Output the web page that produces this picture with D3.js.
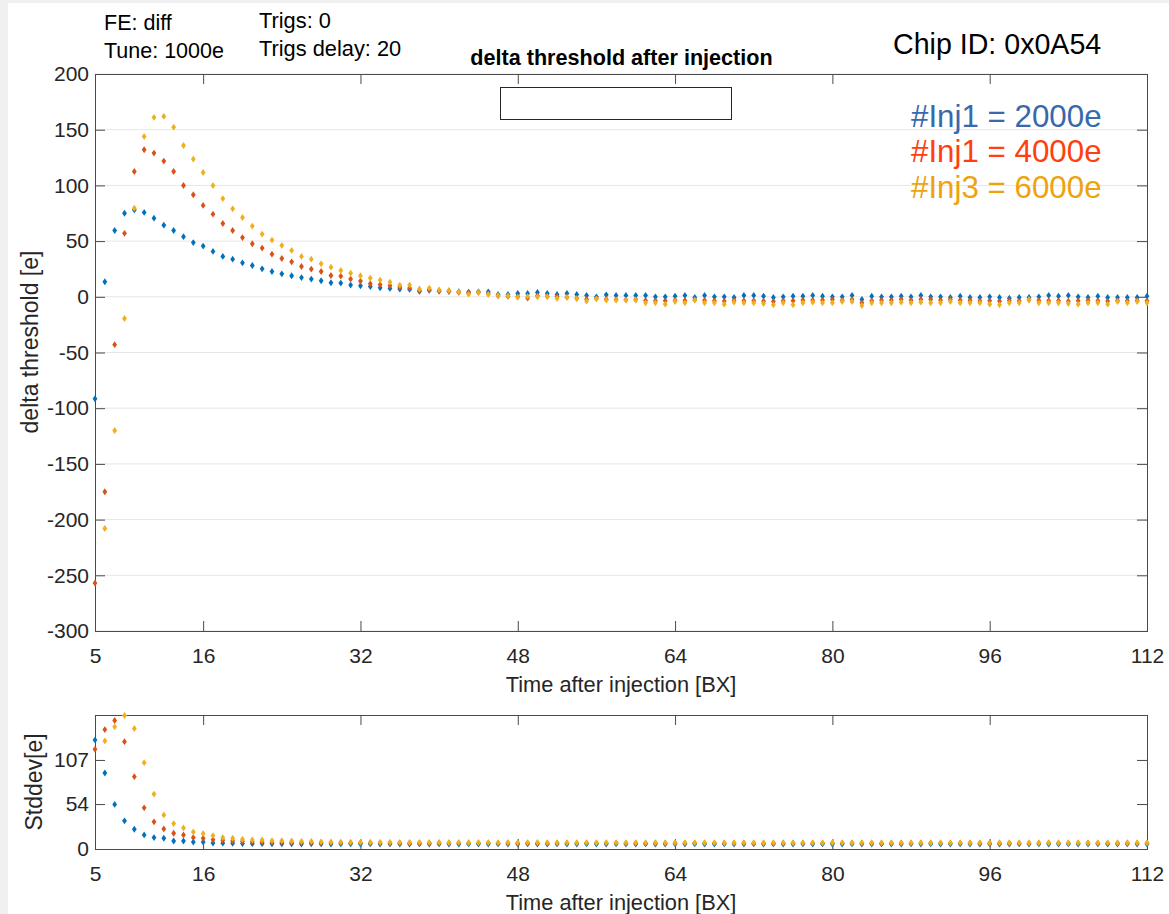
<!DOCTYPE html>
<html><head><meta charset="utf-8">
<script src="https://cdn.jsdelivr.net/npm/d3@7"></script>
<style>
html,body{margin:0;padding:0;background:#f0f0f0;}
svg{display:block;font-family:"Liberation Sans",Arial,Helvetica,sans-serif;}
</style></head><body>
<svg id="chart" width="1169" height="914"></svg>
<script>
// Bunch crossings after injection
const bxAfterInjection = d3.range(5, 113);

// Mean threshold shift [e] per BX, one array per injected charge
const deltaThr2000 = [
  -91.5, 13.5, 59.5, 75, 78, 75.7, 70.6, 64.3, 59.5, 54,
  48.7, 45.5, 40.7, 36.2, 33.8, 30.5, 28.1, 25.1, 22.7, 20.6,
  18.9, 17.3, 15.9, 14.4, 12.6, 12.3, 10.5, 9.9, 9.2, 8.1,
  7.5, 6.9, 6.6, 4.8, 5.7, 5.1, 5.0, 4.6, 4.2, 4.5,
  4.5, 2.1, 2.1, 3.0, 3.0, 3.9, 3.0, 2.1, 3.0, 2.1,
  1.2, 0.0, 1.8, 1.2, 1.2, 1.2, 1.2, 0.0, 0.0, 0.6,
  1.2, -0.6, 1.2, 0.0, 0.0, -0.6, 1.2, 1.2, 0.6, -0.6,
  0.0, 0.6, 0.6, 1.2, 0.6, 0.0, 0.0, 1.2, -2.4, 0.6,
  0.0, 0.0, 0.6, 0.0, 1.2, 0.0, 0.0, -0.6, 0.6, -0.6,
  -0.6, 0.0, -0.6, -1.2, -0.6, -0.6, 0.0, 1.2, 0.6, 1.2,
  0.0, -0.6, 0.6, -0.6, -0.6, -0.6, -0.6, 0.6
];
const deltaThr4000 = [
  -257, -175, -43, 57, 112.5, 132, 129, 121.8, 112.5, 99.9,
  91.6, 82, 74.2, 65.8, 59.5, 53.2, 47.6, 43.7, 38.3, 34.4,
  31.4, 27.2, 24.9, 22.7, 19.1, 18.5, 15.9, 14.1, 11.7, 11.0,
  10.1, 8.7, 7.8, 5.5, 6.3, 5.1, 5.0, 3.9, 3.3, 3.9,
  2.7, 0.9, 0.3, 0.3, -1.2, 0.9, 0.6, 0.3, -0.3, -1.2,
  -2.1, -1.5, -2.1, -2.4, -2.7, -2.4, -3.3, -3.6, -3.6, -3.0,
  -3.3, -2.7, -3.3, -3.6, -3.9, -3.3, -3.6, -3.6, -3.9, -4.2,
  -3.6, -3.6, -3.0, -3.0, -3.0, -2.4, -3.0, -2.4, -5.4, -3.6,
  -3.0, -3.0, -2.4, -3.0, -2.4, -2.4, -3.0, -2.4, -3.0, -3.3,
  -3.6, -3.6, -3.9, -3.3, -3.6, -2.7, -3.3, -3.6, -3.6, -3.9,
  -3.6, -3.3, -3.6, -3.9, -3.3, -3.6, -3.3, -3.6
];
const deltaThr6000 = [
  null, -208, -120, -19.5, 79.6, 143.9, 161, 161.9, 152.3, 135.8,
  123.6, 111.6, 99.9, 88.2, 79, 71.2, 63.5, 56.3, 50.9, 46.1,
  41.6, 36.2, 33.8, 29.6, 26.6, 23.6, 21.2, 18.9, 16.8, 15.0,
  13.2, 10.5, 10.5, 7.0, 7.8, 6.3, 5.7, 4.5, 2.4, 3.9,
  2.1, 1.2, 0.9, -0.6, 0.3, 0.0, 0.0, -1.5, -0.6, -1.8,
  -3.9, -1.8, -3.0, -3.0, -3.0, -3.0, -5.4, -5.4, -6.6, -4.2,
  -5.4, -3.0, -5.4, -5.4, -6.6, -4.8, -5.4, -5.4, -6.0, -7.2,
  -5.4, -7.2, -5.4, -4.8, -5.4, -5.4, -4.2, -4.2, -7.8, -5.4,
  -5.4, -5.4, -4.8, -5.4, -4.8, -5.4, -5.4, -4.2, -5.4, -5.4,
  -5.4, -6.6, -7.2, -5.4, -5.4, -2.4, -5.4, -5.4, -5.4, -6.0,
  -6.6, -5.4, -5.4, -6.6, -4.2, -5.4, -4.2, -5.4
];

// Threshold spread (stddev) [e] per BX
const stdThr2000 = [
  131, 91.3, 53.5, 33.8, 23.7, 16.9, 13.7, 12.9, 9.6, 9.6,
  8.4, 8.4, 7.2, 7.0, 6.8, 6.6, 6.4, 6.4, 6.2, 6.2,
  6.2, 6.0, 6.2, 6.1, 6.0, 6.1, 6.2, 6.0, 6.1, 6.0,
  6.1, 6.0, 6.0, 6.1, 6.0, 6.1, 6.0, 6.0, 6.1, 6.0,
  6.0, 6.1, 6.0, 6.0, 6.1, 6.0, 6.0, 6.1, 6.0, 6.0,
  6.1, 6.0, 6.0, 6.1, 6.0, 6.0, 6.1, 6.0, 6.0, 6.1,
  6.0, 6.1, 6.0, 6.0, 6.1, 6.0, 6.0, 6.1, 6.0, 6.1,
  6.0, 6.0, 6.1, 6.0, 6.1, 6.0, 6.0, 6.1, 6.0, 6.0,
  6.1, 6.0, 6.0, 6.1, 6.0, 6.1, 6.0, 6.0, 6.1, 6.0,
  6.0, 6.1, 6.0, 6.0, 6.1, 6.0, 6.1, 6.0, 6.0, 6.1,
  6.0, 6.0, 6.1, 6.0, 6.0, 6.1, 6.0, 6.0
];
const stdThr4000 = [
  119.8, 143.5, 154.4, 129, 86.9, 49.5, 32.6, 24.1, 18.9, 16.9,
  13.7, 12.9, 11.2, 10.5, 9.6, 9.2, 8.8, 8.4, 8.2, 8.0,
  7.8, 7.7, 7.6, 7.5, 7.4, 7.4, 7.3, 7.3, 7.2, 7.2,
  7.2, 7.1, 7.2, 7.1, 7.1, 7.2, 7.1, 7.1, 7.0, 7.1,
  7.1, 7.0, 7.1, 7.0, 7.1, 7.0, 7.0, 7.1, 7.0, 7.0,
  7.1, 7.0, 7.0, 7.1, 7.0, 7.0, 7.0, 7.1, 7.0, 7.0,
  7.0, 7.1, 7.0, 7.0, 7.0, 7.1, 7.0, 7.0, 7.0, 7.1,
  7.0, 7.0, 7.0, 7.1, 7.0, 7.0, 7.0, 7.1, 7.0, 7.0,
  7.0, 7.1, 7.0, 7.0, 7.0, 7.1, 7.0, 7.0, 7.0, 7.1,
  7.0, 7.0, 7.0, 7.1, 7.0, 7.0, 7.0, 7.1, 7.0, 7.0,
  7.0, 7.1, 7.0, 7.0, 7.0, 7.1, 7.0, 7.0
];
const stdThr6000 = [
  null, 129.9, 146.8, 160.4, 144.8, 103.7, 66, 41, 30.5, 25.3,
  20.5, 18.5, 16, 13.7, 12.9, 11.7, 10.9, 10.9, 10, 10,
  9.6, 9.2, 9.2, 8.6, 8.4, 8.3, 8.2, 8.1, 8.1, 8.0,
  8.0, 8.0, 7.9, 8.0, 7.9, 7.9, 7.8, 7.9, 7.8, 7.8,
  7.8, 7.7, 7.8, 7.7, 7.7, 7.8, 7.7, 7.7, 7.7, 7.6,
  7.7, 7.6, 7.7, 7.6, 7.6, 7.7, 7.6, 7.6, 7.6, 7.6,
  7.7, 7.6, 7.6, 7.6, 7.5, 7.6, 7.6, 7.6, 7.5, 7.6,
  7.6, 7.5, 7.6, 7.6, 7.5, 7.6, 7.6, 7.5, 7.6, 7.5,
  7.6, 7.5, 7.6, 7.5, 7.6, 7.5, 7.6, 7.5, 7.6, 7.5,
  7.6, 7.5, 7.6, 7.5, 7.6, 7.5, 7.5, 7.6, 7.5, 7.5,
  7.6, 7.5, 7.5, 7.6, 7.5, 7.5, 7.6, 7.5
];

const xTicks = [5, 16, 32, 48, 64, 80, 96, 112];
const thrTicks = [-300, -250, -200, -150, -100, -50, 0, 50, 100, 150, 200];
const stdTicks = [0, 54, 107];
const seriesNames = ["#Inj1 = 2000e", "#Inj1 = 4000e", "#Inj3 = 6000e"];
const markerColors = ["#0072bd", "#d95319", "#edb120"];
const legendColors = ["#3868ad", "#ff3f0f", "#eda30c"];
const infoLeft = ["FE: diff", "Tune: 1000e"];
const infoRight = ["Trigs: 0", "Trigs delay: 20"];

const svg = d3.select("#chart");
svg.append("rect").attr("x", 8).attr("y", 3).attr("width", 1161).attr("height", 911).attr("fill", "#ffffff");

const TICK_FONT = 21;
const axisColor = "#4a4a4a";
const diamond = "M0,-3.4L2.4,0L0,3.4L-2.4,0Z";
const plainNumber = d => String(d);

const x = d3.scaleLinear().domain([5, 112]).range([95, 1147]);
const yThr = d3.scaleLinear().domain([-300, 200]).range([631, 74]);
const yStd = d3.scaleLinear().domain([0, 161]).range([849, 715]);

function drawPanel(y, yTicks, series, grid, yLabel, yLabelPos) {
  const [x0, x1] = x.range();
  const [yb, yt] = y.range();
  const g = svg.append("g");
  if (grid) {
    g.append("g").selectAll("line").data(yTicks).join("line")
      .attr("x1", x0).attr("x2", x1)
      .attr("y1", d => y(d)).attr("y2", d => y(d))
      .attr("stroke", "#e6e6e6").attr("stroke-width", 1);
  }
  const styleAxis = (sel, labels) => {
    sel.select(".domain").remove();
    sel.selectAll(".tick line").attr("stroke", axisColor);
    sel.selectAll(".tick text").attr("fill", "#262626")
      .style("font-size", TICK_FONT + "px").style("font-family", "Liberation Sans, Arial, sans-serif");
    if (!labels) sel.selectAll(".tick text").remove();
  };
  g.append("g").attr("transform", `translate(0,${yb})`)
    .call(d3.axisBottom(x).tickValues(xTicks).tickFormat(plainNumber).tickSizeInner(-10).tickSizeOuter(0).tickPadding(17))
    .call(s => styleAxis(s, true));
  g.append("g").attr("transform", `translate(0,${yt})`)
    .call(d3.axisTop(x).tickValues(xTicks).tickSizeInner(-10).tickSizeOuter(0))
    .call(s => styleAxis(s, false));
  g.append("g").attr("transform", `translate(${x0},0)`)
    .call(d3.axisLeft(y).tickValues(yTicks).tickFormat(plainNumber).tickSizeInner(-10).tickSizeOuter(0).tickPadding(6))
    .call(s => styleAxis(s, true));
  g.append("g").attr("transform", `translate(${x1},0)`)
    .call(d3.axisRight(y).tickValues(yTicks).tickSizeInner(-10).tickSizeOuter(0))
    .call(s => styleAxis(s, false));
  g.append("rect").attr("x", x0 + 0.5).attr("y", yt + 0.5)
    .attr("width", x1 - x0).attr("height", yb - yt)
    .attr("fill", "none").attr("stroke", axisColor).attr("stroke-width", 1);

  const [dMin, dMax] = y.domain();
  series.forEach((vals, i) => {
    const pts = bxAfterInjection.map((b, k) => [b, vals[k]])
      .filter(p => p[1] !== null && p[1] >= dMin && p[1] <= dMax);
    g.append("g").selectAll("path").data(pts).join("path")
      .attr("d", diamond)
      .attr("transform", p => `translate(${x(p[0])},${y(p[1])})`)
      .attr("fill", markerColors[i]);
  });

  g.append("text").attr("x", (x0 + x1) / 2).attr("y", yb + 61)
    .attr("text-anchor", "middle").attr("fill", "#262626")
    .style("font-size", "21.8px").text("Time after injection [BX]");
  g.append("text")
    .attr("transform", `translate(${yLabelPos[0]},${yLabelPos[1]}) rotate(-90)`)
    .attr("text-anchor", "middle").attr("fill", "#262626")
    .style("font-size", "23px").text(yLabel);
}

drawPanel(yThr, thrTicks, [deltaThr2000, deltaThr4000, deltaThr6000], true, "delta threshold [e]", [38, 342]);
drawPanel(yStd, stdTicks, [stdThr2000, stdThr4000, stdThr6000], false, "Stddev[e]", [42, 782]);

// Header annotations
svg.append("g").selectAll("text").data(infoLeft).join("text")
  .attr("x", 104).attr("y", (d, i) => 30 + i * 28)
  .attr("fill", "#000").style("font-size", "21.5px").text(d => d);
svg.append("g").selectAll("text").data(infoRight).join("text")
  .attr("x", 259).attr("y", (d, i) => 27.5 + i * 28.5)
  .attr("fill", "#000").style("font-size", "21.8px").text(d => d);
svg.append("text").attr("x", 893).attr("y", 54)
  .attr("fill", "#000").style("font-size", "28.6px").text("Chip ID: 0x0A54");
svg.append("text").attr("x", 621.5).attr("y", 65)
  .attr("text-anchor", "middle").attr("fill", "#000")
  .style("font-size", "21.6px").style("font-weight", "bold")
  .text("delta threshold after injection");
svg.append("rect").attr("x", 500.5).attr("y", 87.5).attr("width", 231).attr("height", 32)
  .attr("fill", "#fff").attr("stroke", "#262626").attr("stroke-width", 1);

// Series legend as coloured text
svg.append("g").selectAll("text").data(seriesNames).join("text")
  .attr("x", 911).attr("y", (d, i) => 126.5 + i * 35.5)
  .attr("fill", (d, i) => legendColors[i])
  .style("font-size", "31.3px").text(d => d);
</script>
</body></html>
